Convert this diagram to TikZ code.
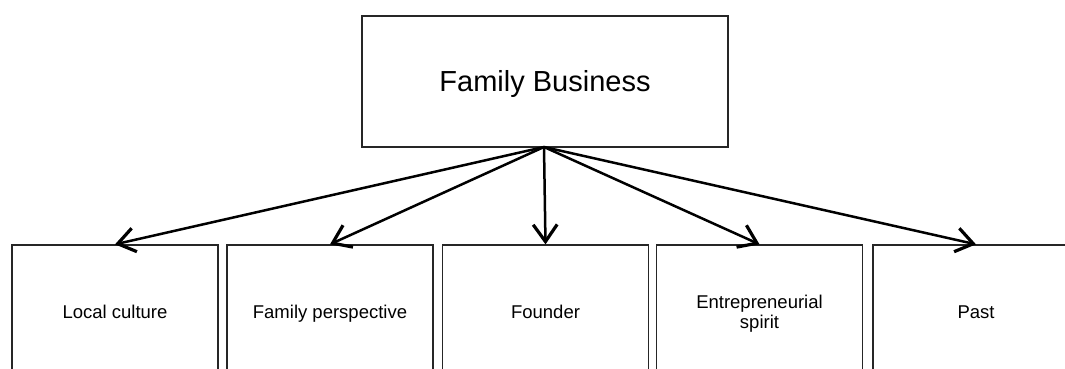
\documentclass[tikz,border=0pt]{standalone}
\usepackage{fontspec}
\setmainfont{Liberation Sans}
\usetikzlibrary{arrows.meta}
\begin{document}
\begin{tikzpicture}[x=1pt,y=-1pt,
  topbox/.style={draw=black!85, line width=1.3pt, fill=white, minimum width=366pt, minimum height=131pt, inner sep=0pt, text height=20.8pt, text depth=0pt, font=\fontsize{29}{34}\selectfont},
  leafbox/.style={draw=black!85, line width=1.3pt, fill=white, minimum width=206pt, minimum height=133pt, inner sep=0pt, align=center, text height=13.3pt, text depth=0pt, font=\fontsize{18.5}{20}\selectfont},
  link/.style={line width=2.5pt, -{Straight Barb[length=17pt,width=24pt,line width=3.2pt]}}]
\useasboundingbox (0,0) rectangle (1065,369);
\clip (0,0) rectangle (1065,369);
% root
\node[topbox] (root) at (545,81.5) {Family Business};
% children
\node[leafbox] (c1) at (115,311.5) {Local culture};
\node[leafbox] (c2) at (330,311.5) {Family perspective};
\node[leafbox] (c3) at (545.5,311.5) {Founder};
\node[leafbox, text height=33.3pt] (c4) at (759.5,311.5) {Entrepreneurial\\spirit};
\node[leafbox] (c5) at (976,311.5) {Past};
% connectors from the bottom of the root to the top of each child
\coordinate (hub) at (544,147);
\foreach \c in {c1,c2,c3,c4,c5}
  \draw[link] (hub) -- (\c.north);
\end{tikzpicture}
\end{document}
